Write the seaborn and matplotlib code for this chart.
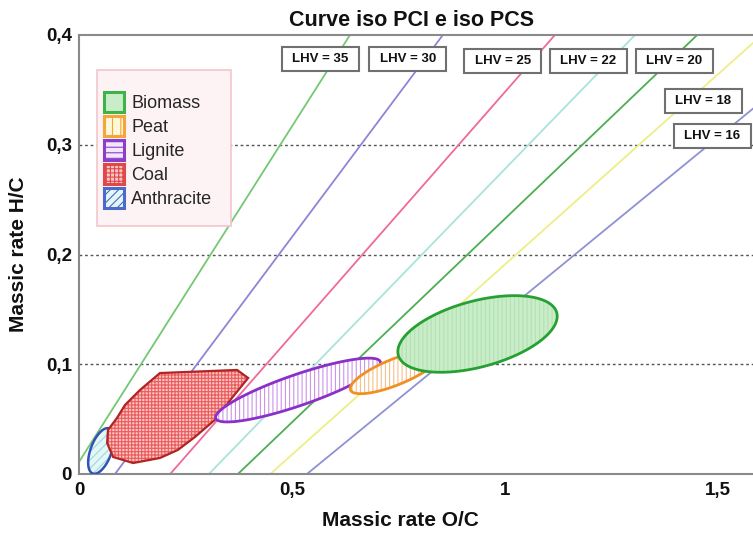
import numpy as np
import pandas as pd
import matplotlib
matplotlib.use("Agg")
import matplotlib.pyplot as plt
import seaborn as sns
from matplotlib.patches import Polygon, Rectangle, Patch

# ---------------- data ----------------
lhv_values = [35, 30, 25, 22, 20, 18, 16]
oc_at_hc0 = [-0.018, 0.0845, 0.214, 0.305, 0.373, 0.449, 0.535]
oc_at_hc04 = [0.636, 0.854, 1.117, 1.305, 1.451, 1.603, 1.793]
hc_ends = [0.0, 0.4]

fuels = ["Biomass", "Peat", "Lignite", "Coal", "Anthracite"]

ellipse_fuels = ["Anthracite", "Lignite", "Peat", "Biomass"]
ell_center_oc = [0.0516, 0.5141, 0.7418, 0.9354]
ell_center_hc = [0.0210, 0.0765, 0.0929, 0.1276]
ell_semi_major = [0.0563, 0.2042, 0.1127, 0.1925]   # in O/C units
ell_semi_minor = [0.0246, 0.0364, 0.0305, 0.0775]   # in O/C units
ell_angle_deg = [70, 19, 22, 15]

coal_oc = [0.190, 0.371, 0.397, 0.359, 0.324, 0.272, 0.232, 0.190, 0.127,
           0.080, 0.066, 0.068, 0.089, 0.108, 0.143]
coal_hc = [0.092, 0.0948, 0.0875, 0.0693, 0.051, 0.0337, 0.0219, 0.0146, 0.0100,
           0.0155, 0.0282, 0.0401, 0.051, 0.0629, 0.0765]

x_ticks = [0, 0.5, 1, 1.5]
x_ticklabels = ["0", "0,5", "1", "1,5"]
y_ticks = [0, 0.1, 0.2, 0.3, 0.4]
y_ticklabels = ["0", "0,1", "0,2", "0,3", "0,4"]
grid_levels = [0.1, 0.2, 0.3]

# ---------------- styles ----------------
line_colors = ["#74c874", "#8f84d8", "#ef6a98", "#a9e3dc", "#4cae52", "#eeee86", "#8e92d2"]
label_pos = [(0.566, 0.378), (0.772, 0.378), (0.995, 0.376), (1.195, 0.376),
             (1.397, 0.376), (1.465, 0.340), (1.486, 0.308)]

fuel_style = {
    "Biomass":    dict(fc="#c9ecc9", hc="#b3e2b3", ec="#26a033", hatch="||||", lw=2.0),
    "Peat":       dict(fc="#ffffff", hc="#f6bf8a", ec="#ef9122", hatch="||||", lw=2.0),
    "Lignite":    dict(fc="#ffffff", hc="#cc94e8", ec="#8a2fc8", hatch="||||", lw=2.0),
    "Coal":       dict(fc="#f8c4c4", hc="#ec5a5a", ec="#b02424", hatch="+++++", lw=1.6),
    "Anthracite": dict(fc="#e4f7f7", hc="#9fd8e0", ec="#3352b8", hatch="////", lw=1.8),
}
legend_style = {
    "Biomass":    dict(facecolor="#c9ecc9", edgecolor="#3cb44a", hatch=None),
    "Peat":       dict(facecolor="#fff8d8", edgecolor="#f5a53a", hatch="||"),
    "Lignite":    dict(facecolor="#f3e6fb", edgecolor="#8a3fc8", hatch="---"),
    "Coal":       dict(facecolor="#f8c4c4", edgecolor="#e04848", hatch="++++"),
    "Anthracite": dict(facecolor="#e4f7f7", edgecolor="#4a6cc8", hatch="////"),
}

sns.set_theme(style="white")
plt.rcParams["font.family"] = ["Liberation Sans", "DejaVu Sans"]
plt.rcParams["hatch.linewidth"] = 0.8

W, H = 753, 534
fig = plt.figure(figsize=(W / 100, H / 100), dpi=100)
ax_left, ax_right, ax_bottom, ax_top = 79, 753, 60, 499   # pixels
axw, axh = ax_right - ax_left, ax_top - ax_bottom
ax = fig.add_axes([ax_left / W, ax_bottom / H, axw / W, axh / H])

def ax_frac(px, py):
    """image pixel (from top-left) -> axes fraction"""
    return (px - ax_left) / axw, ((H - py) - ax_bottom) / axh

xmax, ymax = 1.582, 0.4
ax.set_xlim(0, xmax)
ax.set_ylim(0, ymax)

# dotted horizontal grid
for g in grid_levels:
    ax.axhline(g, color="#555555", lw=1.0, ls=(0, (2, 2)), zorder=1)

# iso-LHV lines
lines_df = pd.DataFrame({
    "LHV": np.repeat(lhv_values, 2),
    "OC": np.ravel(np.column_stack([oc_at_hc0, oc_at_hc04])),
    "HC": np.tile(hc_ends, len(lhv_values)),
})
sns.lineplot(data=lines_df, x="OC", y="HC", hue="LHV", hue_order=lhv_values,
             palette=line_colors, legend=False, lw=1.3, sort=False,
             estimator=None, ax=ax, zorder=2)

# aspect factor (pixels per H/C unit / pixels per O/C unit)
ppx = axw / xmax
ppy = axh / ymax
k = ppy / ppx

def draw_shape(xs, ys, name, z):
    st = fuel_style[name]
    pts = np.column_stack([xs, ys])
    ax.add_patch(Polygon(pts, closed=True, facecolor=st["fc"], edgecolor=st["hc"],
                         hatch=st["hatch"], lw=0, zorder=z))
    ax.add_patch(Polygon(pts, closed=True, fill=False, edgecolor=st["ec"],
                         lw=st["lw"], zorder=z + 0.5))

t = np.linspace(0, 2 * np.pi, 240)
z = 3
for i, name in enumerate(ellipse_fuels):
    th = np.deg2rad(ell_angle_deg[i])
    a, b = ell_semi_major[i], ell_semi_minor[i]
    dx = a * np.cos(t) * np.cos(th) - b * np.sin(t) * np.sin(th)
    dy = (a * np.cos(t) * np.sin(th) + b * np.sin(t) * np.cos(th)) / k
    draw_shape(ell_center_oc[i] + dx, ell_center_hc[i] + dy, name, z)
    z += 1
    if name == "Anthracite":
        draw_shape(coal_oc, coal_hc, "Coal", z)
        z += 1

# LHV label boxes
bw, bh = 77 / ppx, 24 / ppy
for (lx, ly), v in zip(label_pos, lhv_values):
    ax.add_patch(Rectangle((lx - bw / 2, ly - bh / 2), bw, bh, facecolor="white",
                           edgecolor="#707070", lw=1.5, zorder=10))
    ax.text(lx, ly, f"LHV = {v}", ha="center", va="center", fontsize=9.5,
            fontweight="bold", color="#111111", zorder=11)

# axes cosmetics
ax.set_xticks(x_ticks)
ax.set_xticklabels(x_ticklabels)
ax.set_yticks(y_ticks)
ax.set_yticklabels(y_ticklabels)
ax.tick_params(axis="both", length=0, labelsize=13.5, colors="#111111")
ax.tick_params(axis="x", pad=6)
ax.tick_params(axis="y", pad=5)
for lab in ax.get_xticklabels() + ax.get_yticklabels():
    lab.set_fontweight("bold")
for s in ["left", "bottom", "top"]:
    ax.spines[s].set_color("#8a8a8a")
    ax.spines[s].set_linewidth(1.5)
ax.spines["right"].set_visible(False)
ax.grid(False)

ax.set_xlabel("Massic rate O/C", fontsize=15, fontweight="bold", color="#111111")
ax.xaxis.set_label_coords((400 - ax_left) / axw, -0.085)
ax.set_ylabel("Massic rate H/C", fontsize=15, fontweight="bold", color="#111111")
ax.yaxis.set_label_coords((28 - ax_left) / axw, 0.5)
fig.text(412 / W, 1 - 20 / H, "Curve iso PCI e iso PCS", ha="center", va="center",
         fontsize=15.5, fontweight="bold", color="#111111")

# legend box (pink frame)
bx0, by1 = ax_frac(97, 70)
bx1, by0 = ax_frac(231, 226)
ax.add_patch(Rectangle((bx0, by0), bx1 - bx0, by1 - by0, transform=ax.transAxes,
                       facecolor="#fdf3f5", edgecolor="#f2c6cc", lw=1.2, zorder=12))

handles = [Patch(label=f, lw=2.2, **legend_style[f]) for f in fuels]
leg = ax.legend(handles=handles, loc="upper left", bbox_to_anchor=ax_frac(104, 92),
                borderaxespad=0, borderpad=0, fontsize=13, handlelength=1.1,
                handleheight=1.33, handletextpad=0.4, labelspacing=0.22,
                frameon=False)
leg.set_zorder(13)

fig.savefig("out.png", dpi=100)
